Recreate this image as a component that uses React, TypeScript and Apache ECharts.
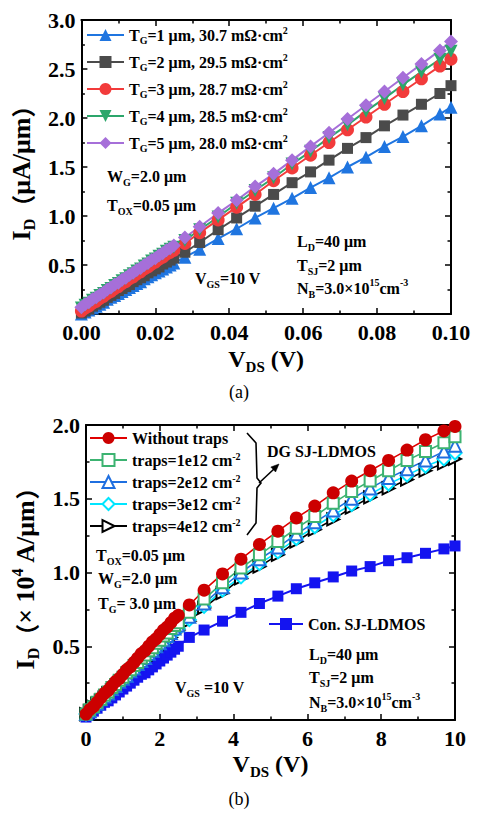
import React, { useEffect, useRef } from 'react';
import * as echarts from 'echarts';

const FF = '"Liberation Serif", "Times New Roman", serif';

// ---------- (a) data ----------
const vdsA = [0, 0.001, 0.002, 0.003, 0.004, 0.005, 0.006, 0.007, 0.008, 0.009, 0.01, 0.011, 0.012, 0.013, 0.014, 0.015, 0.016, 0.017, 0.018, 0.019, 0.02, 0.021, 0.022, 0.023, 0.024, 0.025,
  0.028, 0.032, 0.037, 0.042, 0.047, 0.052, 0.057, 0.062, 0.067, 0.072, 0.077, 0.082, 0.087, 0.092, 0.097, 0.1];
const tg1 = [0.0, 0.02, 0.04, 0.06, 0.08, 0.1, 0.12, 0.15, 0.17, 0.19, 0.21, 0.23, 0.25, 0.27, 0.29, 0.31, 0.33, 0.36, 0.38, 0.4, 0.42, 0.44, 0.46, 0.48, 0.5, 0.52,
  0.58, 0.66, 0.77, 0.87, 0.98, 1.08, 1.18, 1.29, 1.39, 1.5, 1.6, 1.71, 1.81, 1.92, 2.04, 2.11];
const tg2 = [0.01, 0.03, 0.05, 0.08, 0.1, 0.12, 0.14, 0.17, 0.19, 0.21, 0.24, 0.26, 0.28, 0.3, 0.33, 0.35, 0.37, 0.39, 0.42, 0.44, 0.46, 0.48, 0.51, 0.53, 0.55, 0.57,
  0.63, 0.73, 0.86, 0.98, 1.1, 1.22, 1.34, 1.45, 1.57, 1.69, 1.8, 1.92, 2.03, 2.14, 2.25, 2.33];
const tg3 = [0.03, 0.06, 0.08, 0.11, 0.13, 0.16, 0.18, 0.21, 0.23, 0.26, 0.28, 0.31, 0.33, 0.36, 0.38, 0.41, 0.43, 0.46, 0.48, 0.51, 0.53, 0.56, 0.58, 0.61, 0.63, 0.65,
  0.72, 0.83, 0.96, 1.09, 1.22, 1.36, 1.49, 1.62, 1.75, 1.88, 2.01, 2.14, 2.27, 2.4, 2.53, 2.6];
const tg4 = [0.06, 0.09, 0.11, 0.14, 0.16, 0.19, 0.21, 0.24, 0.26, 0.29, 0.31, 0.34, 0.36, 0.39, 0.41, 0.44, 0.46, 0.49, 0.51, 0.54, 0.56, 0.59, 0.61, 0.64, 0.66, 0.68,
  0.75, 0.86, 0.99, 1.13, 1.26, 1.39, 1.53, 1.66, 1.8, 1.93, 2.07, 2.2, 2.34, 2.47, 2.6, 2.68];
const tg5 = [0.07, 0.1, 0.12, 0.15, 0.17, 0.2, 0.22, 0.25, 0.27, 0.3, 0.32, 0.35, 0.37, 0.4, 0.42, 0.45, 0.47, 0.5, 0.52, 0.55, 0.57, 0.6, 0.62, 0.65, 0.67, 0.7,
  0.78, 0.89, 1.03, 1.16, 1.3, 1.43, 1.57, 1.71, 1.85, 1.99, 2.13, 2.27, 2.41, 2.55, 2.69, 2.78];
const namesA = ['TG=1 μm, 30.7 mΩ·cm2', 'TG=2 μm, 29.5 mΩ·cm2', 'TG=3 μm, 28.7 mΩ·cm2', 'TG=4 μm, 28.5 mΩ·cm2', 'TG=5 μm, 28.0 mΩ·cm2'];
const tgLabels = ['1', '2', '3', '4', '5'];
const ronLabels = ['30.7', '29.5', '28.7', '28.5', '28.0'];
const ticksA_x = [0, 0.1, 0.02];
const ticksA_y = [0, 3.0, 0.5];

// ---------- (b) data ----------
const vdsB = [0, 0.1, 0.2, 0.3, 0.4, 0.5, 0.6, 0.7, 0.8, 0.9, 1.0, 1.1, 1.2, 1.3, 1.4, 1.5, 1.6, 1.7, 1.8, 1.9, 2.0, 2.1, 2.2, 2.3, 2.4, 2.5,
  2.8, 3.2, 3.7, 4.2, 4.7, 5.2, 5.7, 6.2, 6.7, 7.2, 7.7, 8.2, 8.7, 9.2, 9.7, 10];
const noTraps = [0.04, 0.07, 0.09, 0.12, 0.15, 0.18, 0.2, 0.23, 0.26, 0.28, 0.31, 0.34, 0.36, 0.39, 0.42, 0.45, 0.47, 0.5, 0.53, 0.55, 0.58, 0.61, 0.63, 0.66, 0.69, 0.71,
  0.78, 0.88, 0.99, 1.09, 1.19, 1.28, 1.37, 1.45, 1.54, 1.62, 1.69, 1.76, 1.83, 1.9, 1.96, 1.99];
const traps1 = [0.04, 0.07, 0.09, 0.12, 0.14, 0.17, 0.19, 0.22, 0.24, 0.27, 0.29, 0.32, 0.34, 0.37, 0.39, 0.42, 0.44, 0.47, 0.49, 0.52, 0.54, 0.57, 0.59, 0.62, 0.64, 0.66,
  0.73, 0.82, 0.93, 1.03, 1.12, 1.21, 1.3, 1.38, 1.47, 1.55, 1.62, 1.69, 1.76, 1.82, 1.88, 1.92];
const traps2 = [0.04, 0.06, 0.09, 0.11, 0.14, 0.16, 0.18, 0.21, 0.23, 0.26, 0.28, 0.3, 0.33, 0.35, 0.38, 0.4, 0.42, 0.45, 0.47, 0.5, 0.52, 0.54, 0.57, 0.59, 0.62, 0.64,
  0.7, 0.79, 0.9, 1.0, 1.09, 1.17, 1.26, 1.34, 1.42, 1.5, 1.57, 1.64, 1.7, 1.76, 1.82, 1.86];
const traps3 = [0.04, 0.06, 0.09, 0.11, 0.13, 0.16, 0.18, 0.2, 0.23, 0.25, 0.27, 0.3, 0.32, 0.34, 0.37, 0.39, 0.41, 0.44, 0.46, 0.48, 0.51, 0.53, 0.55, 0.58, 0.6, 0.62,
  0.68, 0.77, 0.88, 0.97, 1.06, 1.14, 1.23, 1.31, 1.39, 1.46, 1.53, 1.6, 1.66, 1.72, 1.77, 1.81];
const traps4 = [0.04, 0.06, 0.09, 0.11, 0.13, 0.15, 0.18, 0.2, 0.22, 0.25, 0.27, 0.29, 0.31, 0.34, 0.36, 0.38, 0.4, 0.43, 0.45, 0.47, 0.5, 0.52, 0.54, 0.56, 0.59, 0.61,
  0.67, 0.76, 0.86, 0.96, 1.04, 1.12, 1.21, 1.29, 1.36, 1.44, 1.51, 1.57, 1.63, 1.69, 1.74, 1.77];
const conSJ = [0.02, 0.04, 0.06, 0.08, 0.1, 0.12, 0.13, 0.15, 0.17, 0.19, 0.21, 0.23, 0.25, 0.27, 0.29, 0.31, 0.32, 0.34, 0.36, 0.38, 0.4, 0.42, 0.44, 0.46, 0.48, 0.5,
  0.56, 0.61, 0.67, 0.73, 0.79, 0.84, 0.89, 0.93, 0.97, 1.01, 1.04, 1.08, 1.1, 1.13, 1.16, 1.18];
const namesB = ['Without traps', 'traps=1e12 cm-2', 'traps=2e12 cm-2', 'traps=3e12 cm-2', 'traps=4e12 cm-2'];
const trapLabels = ['1e12', '2e12', '3e12', '4e12'];
const conName = 'Con. SJ-LDMOS';
const ticksB_x = [0, 10, 2];
const ticksB_y = [0, 2.0, 0.5];

const mkRich = (size: number, sub: number, lh: number) => ({
  b: { fontFamily: FF, fontWeight: 'bold', fontSize: size, lineHeight: lh, color: '#000' },
  s: { fontFamily: FF, fontWeight: 'bold', fontSize: sub, lineHeight: sub + 2, verticalAlign: 'bottom', color: '#000' },
  p: { fontFamily: FF, fontWeight: 'bold', fontSize: sub, lineHeight: sub + 2, verticalAlign: 'top', color: '#000' },
});
const annRich = mkRich(16, 10, 22);
const nameRichX = mkRich(24, 15, 30);
const nameRichY = {
  ...mkRich(26, 16, 32),
  c: { fontFamily: '"Noto Sans CJK SC", sans-serif', fontWeight: 'bold', fontSize: 24, lineHeight: 32, color: '#000' },
};

const richMapA: Record<string, string> = {};
namesA.forEach((n, i) => {
  richMapA[n] = `{b|T}{s|G}{b|=${tgLabels[i]} μm, ${ronLabels[i]} mΩ·cm}{p|2}`;
});
const richMapB: Record<string, string> = {
  'Without traps': '{b|Without traps}',
  [conName]: '{b|Con. SJ-LDMOS}',
};
trapLabels.forEach((t, i) => {
  richMapB[namesB[i + 1]] = `{b|traps=${t} cm}{p|-2}`;
});

function pairs(xs: number[], ys: number[]) {
  return xs.map((x, i) => [x, ys[i]]);
}

function axisPair(gridIndex: number, range: number[], fmt: (v: number) => string, name: string, nameGap: number, isX: boolean) {
  const base = {
    gridIndex,
    type: 'value',
    min: range[0],
    max: range[1],
    interval: range[2],
    splitLine: { show: false },
    axisLine: { show: true, onZero: false, lineStyle: { color: '#000', width: 2 } },
    axisTick: { show: true, inside: true, length: 6, lineStyle: { color: '#000', width: 1.5 } },
    minorTick: { show: true, splitNumber: 2, length: 3.5, lineStyle: { color: '#000', width: 1.5 } },
  };
  return [
    {
      ...base,
      position: isX ? 'bottom' : 'left',
      axisLabel: {
        formatter: fmt,
        fontFamily: FF,
        fontWeight: 'bold',
        fontSize: 22,
        color: '#000',
        margin: isX ? 7 : 6,
      },
      name,
      nameLocation: 'middle',
      nameGap,
      nameTextStyle: { rich: isX ? nameRichX : nameRichY, fontFamily: FF, fontWeight: 'bold', fontSize: 24, color: '#000' },
    },
    { ...base, position: isX ? 'top' : 'right', axisLabel: { show: false } },
  ];
}

export default function App() {
  const ref = useRef<HTMLDivElement>(null);
  useEffect(() => {
    if (!ref.current) return;
    const chart = echarts.init(ref.current, undefined, { renderer: 'svg' });

    const symA = [
      { symbol: 'triangle', rot: 0, color: '#1f75e0', size: 13 },
      { symbol: 'rect', rot: 0, color: '#4b4b4b', size: 11 },
      { symbol: 'circle', rot: 0, color: '#f23b3b', size: 13 },
      { symbol: 'triangle', rot: 180, color: '#2ca66b', size: 13 },
      { symbol: 'diamond', rot: 0, color: '#a66fd9', size: 14 },
    ];
    const valsA = [tg1, tg2, tg3, tg4, tg5];
    const seriesA = namesA.map((n, i) => ({
      type: 'line',
      name: n,
      xAxisIndex: 0,
      yAxisIndex: 0,
      data: pairs(vdsA, valsA[i]),
      symbol: symA[i].symbol,
      symbolRotate: symA[i].rot,
      symbolSize: symA[i].size,
      showAllSymbol: true,
      itemStyle: { color: symA[i].color },
      lineStyle: { color: symA[i].color, width: 2 },
    }));

    const symB = [
      { symbol: 'circle', rot: 0, color: '#cc0000', line: '#e00000', size: 13, empty: false },
      { symbol: 'emptyRect', rot: 0, color: '#3cb371', line: '#3cb371', size: 11, empty: true },
      { symbol: 'emptyTriangle', rot: 0, color: '#1f6fe0', line: '#1f6fe0', size: 12, empty: true },
      { symbol: 'emptyDiamond', rot: 0, color: '#00e5ff', line: '#00e5ff', size: 13, empty: true },
      { symbol: 'emptyTriangle', rot: -90, color: '#000000', line: '#000000', size: 12, empty: true },
    ];
    const valsB = [noTraps, traps1, traps2, traps3, traps4];
    const seriesBtraps = namesB.map((n, i) => ({
      type: 'line',
      name: n,
      xAxisIndex: 2,
      yAxisIndex: 2,
      data: pairs(vdsB, valsB[i]),
      symbol: symB[i].symbol,
      symbolRotate: symB[i].rot,
      symbolSize: symB[i].size,
      showAllSymbol: true,
      itemStyle: { color: symB[i].color, borderColor: symB[i].color, borderWidth: symB[i].empty ? 1.2 : 0 },
      lineStyle: { color: symB[i].line, width: 1.6 },
    }));
    const seriesCon = {
      type: 'line',
      name: conName,
      xAxisIndex: 2,
      yAxisIndex: 2,
      data: pairs(vdsB, conSJ),
      symbol: 'rect',
      symbolSize: 11,
      showAllSymbol: true,
      itemStyle: { color: '#1414f0' },
      lineStyle: { color: '#1414f0', width: 2 },
    };
    // draw order: con first, traps (4..1), without traps last
    const seriesB = [seriesCon, ...seriesBtraps.slice(1).reverse(), seriesBtraps[0]];

    const ann = (x: number, y: number, text: string) => ({
      type: 'text',
      x,
      y,
      style: { text, rich: annRich, align: 'left', verticalAlign: 'middle', fontFamily: FF, fontWeight: 'bold', fontSize: 16, fill: '#000' },
    });

    const option = {
      animation: false,
      backgroundColor: '#fff',
      title: [
        { text: '(a)', left: 'center', top: 383, padding: 0, textStyle: { fontFamily: FF, fontWeight: 'normal', fontSize: 18, color: '#000' } },
        { text: '(b)', left: 'center', top: 790, padding: 0, textStyle: { fontFamily: FF, fontWeight: 'normal', fontSize: 18, color: '#000' } },
      ],
      grid: [
        { left: 81, top: 20, width: 370, height: 294 },
        { left: 86, top: 425, width: 369, height: 295 },
      ],
      xAxis: [
        ...axisPair(0, ticksA_x, (v: number) => v.toFixed(2), '{b|V}{s|DS}{b| (V)}', 30, true),
        ...axisPair(1, ticksB_x, (v: number) => String(v), '{b|V}{s|DS}{b| (V)}', 29, true),
      ],
      yAxis: [
        ...axisPair(0, ticksA_y, (v: number) => (v === 0 ? '' : v.toFixed(1)), '{b|I}{s|D}{c|（}{b|μA/μm}{c|）}', 36, false),
        ...axisPair(1, ticksB_y, (v: number) => (v === 0 ? '' : v.toFixed(1)), '{b|I}{s|D}{c|（}{b|× 10}{p|4}{b| A/μm}{c|）}', 36, false),
      ],
      legend: [
        {
          data: namesA,
          orient: 'vertical',
          left: 86,
          top: 25,
          padding: 0,
          itemWidth: 37,
          itemHeight: 15,
          itemGap: 7,
          selectedMode: false,
          formatter: (n: string) => richMapA[n],
          textStyle: { rich: mkRich(16, 10, 20), fontFamily: FF, fontWeight: 'bold', fontSize: 16, color: '#000' },
        },
        {
          data: namesB,
          orient: 'vertical',
          left: 89,
          top: 430,
          padding: 0,
          itemWidth: 37,
          itemHeight: 15,
          itemGap: 5,
          selectedMode: false,
          formatter: (n: string) => richMapB[n],
          textStyle: { rich: mkRich(16, 10, 18), fontFamily: FF, fontWeight: 'bold', fontSize: 16, color: '#000' },
        },
        {
          data: [conName],
          orient: 'vertical',
          left: 268,
          top: 616,
          padding: 0,
          itemWidth: 34,
          itemHeight: 15,
          selectedMode: false,
          formatter: (n: string) => richMapB[n],
          textStyle: { rich: mkRich(16, 10, 20), fontFamily: FF, fontWeight: 'bold', fontSize: 16, color: '#000' },
        },
      ],
      graphic: [
        ann(107, 176, '{b|W}{s|G}{b|=2.0 μm}'),
        ann(107, 205, '{b|T}{s|OX}{b|=0.05 μm}'),
        ann(195, 278, '{b|V}{s|GS}{b|=10 V}'),
        ann(297, 241, '{b|L}{s|D}{b|=40 μm}'),
        ann(297, 265, '{b|T}{s|SJ}{b|=2 μm}'),
        ann(297, 288, '{b|N}{s|B}{b|=3.0×10}{p|15}{b|cm}{p|-3}'),
        ann(96, 555, '{b|T}{s|OX}{b|=0.05 μm}'),
        ann(98, 578, '{b|W}{s|G}{b|=2.0 μm}'),
        ann(98, 603, '{b|T}{s|G}{b|= 3.0 μm}'),
        ann(175, 687, '{b|V}{s|GS}{b| =10 V}'),
        ann(309, 654, '{b|L}{s|D}{b|=40 μm}'),
        ann(309, 677, '{b|T}{s|SJ}{b|=2 μm}'),
        ann(309, 702, '{b|N}{s|B}{b|=3.0×10}{p|15}{b|cm}{p|-3}'),
        ann(267, 451, '{b|DG SJ-LDMOS}'),
        {
          type: 'polyline',
          shape: { points: [[247, 433], [256, 443], [257, 478], [261, 483], [257, 488], [256, 523], [247, 535]] },
          style: { stroke: '#000', lineWidth: 1.6, fill: null },
        },
        {
          type: 'line',
          shape: { x1: 259, y1: 483, x2: 274, y2: 469 },
          style: { stroke: '#000', lineWidth: 1.6 },
        },
        {
          type: 'polygon',
          shape: { points: [[279, 464], [275.6, 472], [270.8, 467]] },
          style: { fill: '#000', stroke: '#000', lineWidth: 0.5 },
        },
      ],
      series: [...seriesA, ...seriesB],
    };
    chart.setOption(option as any);
    return () => chart.dispose();
  }, []);
  return <div ref={ref} style={{ position: 'absolute', left: 0, top: 0, width: 478, height: 814, background: '#fff' }} />;
}
